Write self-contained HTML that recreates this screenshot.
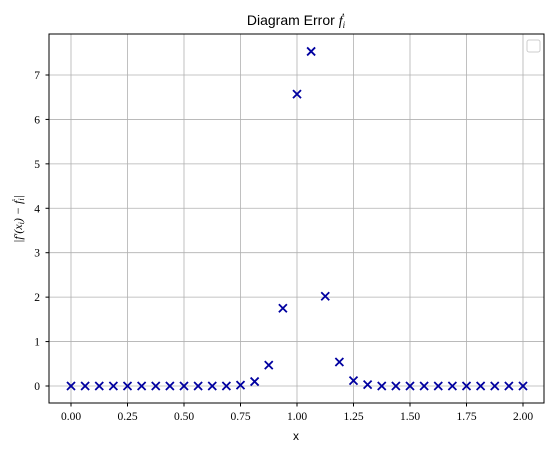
<!DOCTYPE html>
<html><head><meta charset="utf-8"><style>
body{margin:0;background:#fff;width:554px;height:453px;overflow:hidden}
svg text{fill:#000}
</style></head><body>
<svg id="chart" width="554" height="453">
<text x="296" y="25" font-size="14" text-anchor="middle" style="font-family:'Liberation Sans',sans-serif">Diagram Error <tspan style="font-family:'Liberation Serif',serif;font-style:italic">ḟ<tspan font-size="9" dy="3">i</tspan></tspan></text>
<text x="296" y="440" font-size="12" text-anchor="middle" style="font-family:'Liberation Sans',sans-serif">x</text>
<text transform="translate(22,219) rotate(-90)" font-size="12" text-anchor="middle" style="font-family:'Liberation Serif',serif;font-style:italic">|f′(x<tspan font-size="8" dy="2">i</tspan><tspan dy="-2">) − ḟ</tspan><tspan font-size="8" dy="2">i</tspan><tspan dy="-2">|</tspan></text>
<g id="grid"></g><g id="ticks"></g><g id="marks"></g>
<rect x="49" y="34" width="495" height="369" fill="none" stroke="#000" stroke-width="1"/>
<rect x="527" y="40" width="13" height="12" rx="2" fill="#fff" stroke="#ccc"/>
</svg>
<script>
const xTicks=[0,0.25,0.5,0.75,1.0,1.25,1.5,1.75,2.0];
const yTicks=[0,1,2,3,4,5,6,7];
const xValues=[0,0.0625,0.125,0.1875,0.25,0.3125,0.375,0.4375,0.5,0.5625,0.625,0.6875,0.75,0.8125,0.875,0.9375,1.0,1.0625,1.125,1.1875,1.25,1.3125,1.375,1.4375,1.5,1.5625,1.625,1.6875,1.75,1.8125,1.875,1.9375,2.0];
const errValues=[0,0,0,0,0,0,0,0,0,0,0,0,0.02,0.1,0.47,1.75,6.57,7.53,2.02,0.54,0.12,0.03,0,0,0,0,0,0,0,0,0,0,0];
const X=v=>71+v*226, Y=v=>386-v*44.43;
const NS="http://www.w3.org/2000/svg";
const g=document.getElementById('grid'),t=document.getElementById('ticks'),m=document.getElementById('marks');
function el(tag,attrs,parent){const e=document.createElementNS(NS,tag);for(const k in attrs)e.setAttribute(k,attrs[k]);parent.appendChild(e);return e;}
xTicks.forEach(v=>{
 const l=el('line',{x1:X(v),x2:X(v),y1:34,y2:403,stroke:'#b0b0b0','stroke-width':0.8},g);
 
 
 el('line',{x1:X(v),x2:X(v),y1:403,y2:406.5,stroke:'#000'},t);
 const tx=el('text',{x:X(v),y:420,'font-size':11.5,'text-anchor':'middle',style:"font-family:'Liberation Serif',serif"},t);
 tx.textContent=v.toFixed(2);
 
 
});
yTicks.forEach(v=>{
 const l=el('line',{x1:49,x2:544,y1:Y(v),y2:Y(v),stroke:'#b0b0b0','stroke-width':0.8},g);
 
 
 el('line',{x1:45.5,x2:49,y1:Y(v),y2:Y(v),stroke:'#000'},t);
 const tx=el('text',{x:40,y:Y(v)+4,'font-size':11.5,'text-anchor':'end',style:"font-family:'Liberation Serif',serif"},t);
 tx.textContent=v;
 
 
});
xValues.forEach((v,i)=>{
 const cx=X(v),cy=Y(errValues[i]),s=4;
 const p=el('path',{d:`M${cx-s},${cy-s}L${cx+s},${cy+s}M${cx-s},${cy+s}L${cx+s},${cy-s}`,stroke:'#0000a0','stroke-width':1.8},m);
 
 
});
</script>
</body></html>
